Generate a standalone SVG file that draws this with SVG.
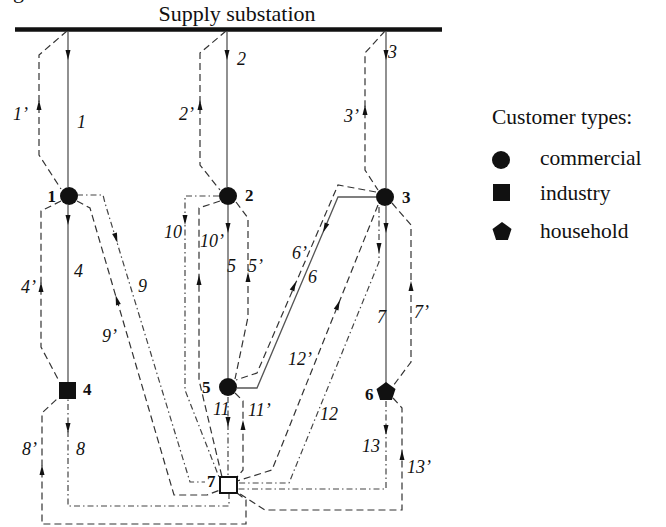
<svg xmlns="http://www.w3.org/2000/svg" xmlns:xlink="http://www.w3.org/1999/xlink" width="666" height="527" viewBox="0 0 666 527">
<style>
text{font-family:"Liberation Serif","Times New Roman",serif;fill:#111}
.t{font-size:22px}
.lg{font-size:21.5px}
.nl{font-size:17px;font-weight:bold}
.el{font-size:18px;font-style:italic}
.s{stroke:#555;stroke-width:1.3;fill:none}
.d{stroke:#333;stroke-width:1.2;fill:none;stroke-dasharray:7 4}
.dd{stroke:#444;stroke-width:1.2;fill:none;stroke-dasharray:6 3 1.5 3}
.n{fill:#111;stroke:none}
</style>
<defs>
<path id="ad" d="M-2.5,-5 L2.5,-5 L0,5 Z" fill="#111"/>
<path id="au" d="M-2.5,5 L2.5,5 L0,-5 Z" fill="#111"/>
</defs>
<text class="t" x="13" y="-2">g</text>
<text class="t" x="237" y="21" text-anchor="middle">Supply substation</text>
<line x1="15" y1="29.5" x2="442" y2="29.5" stroke="#111" stroke-width="4.5"/>

<g id="connectors">
<!-- feeders from substation -->
<path class="s" d="M68,31 V187"/>
<path class="d" d="M67,31 L39,55 V155 L61,189"/>
<path class="s" d="M227,31 V187"/>
<path class="d" d="M226,31 L200,53 V165 L220,190"/>
<path class="s" d="M386,31 V188"/>
<path class="d" d="M385,31 L365,53 V170 L378,190"/>
<!-- 1 -> 4 -->
<path class="s" d="M68,205 V382"/>
<path class="d" d="M61,201 L41,211 V347 L59,381"/>
<!-- 2 -> 5 -->
<path class="s" d="M228,205 V378"/>
<path class="d" d="M236,202 L248,218 V317 L235,379"/>
<!-- 3 -> 6 -->
<path class="s" d="M386,206 V383"/>
<path class="d" d="M392,203 L411,225 V362 L393,386"/>
<!-- 3 -> 5 -->
<path class="s" d="M376,197 H338 L257,388 H237"/>
<path class="d" d="M376,192 L338,185 L257,373 L236,380"/>
<!-- 1 -> 7 -->
<path class="dd" d="M77,195 H103 L105,203 L190,482 H205"/>
<path class="d" d="M77,201 L90,208 L174,495 H207 L220,490"/>
<!-- 2 -> 7 -->
<path class="dd" d="M219,196 H185 V390 L219,477"/>
<path class="d" d="M220,201 L199,208 V380 L222,477"/>
<!-- 5 -> 7 -->
<path class="dd" d="M228,397 V477"/>
<path class="d" d="M235,393 L243,401 V470 L237,477"/>
<!-- 3 -> 7 -->
<path class="dd" d="M379,207 V262 L289,483 H237"/>
<path class="d" d="M378,205 L272,470 L237,481"/>
<!-- 6 -> 7 -->
<path class="dd" d="M386,401 V489 H237"/>
<path class="d" d="M393,398 L402,408 V510 H265 L237,492"/>
<!-- 4 -> 7 -->
<path class="dd" d="M229,493 V506 H68 V399"/>
<path class="d" d="M237,493 L246,500 V524 H42 V413 L57,399"/>

<!-- arrowheads -->
<use xlink:href="#ad" x="68" y="55"/>
<use xlink:href="#ad" x="227" y="55"/>
<use xlink:href="#ad" x="386" y="55"/>
<use xlink:href="#au" x="39" y="105"/>
<use xlink:href="#au" x="200" y="105"/>
<use xlink:href="#au" x="365" y="110"/>
<use xlink:href="#ad" x="68" y="220"/>
<use xlink:href="#au" x="41" y="287"/>
<use xlink:href="#ad" x="228" y="228"/>
<use xlink:href="#au" x="248" y="277"/>
<use xlink:href="#ad" x="386" y="228"/>
<use xlink:href="#au" x="411" y="286"/>
<use xlink:href="#ad" x="185" y="220"/>
<use xlink:href="#au" x="199" y="280"/>
<use xlink:href="#ad" x="379" y="248"/>
<use xlink:href="#ad" x="228" y="422"/>
<use xlink:href="#au" x="243" y="425"/>
<use xlink:href="#ad" x="68" y="428"/>
<use xlink:href="#au" x="42" y="470"/>
<use xlink:href="#ad" x="386" y="430"/>
<use xlink:href="#au" x="402" y="455"/>
<use xlink:href="#ad" transform="translate(116,238) rotate(-16.9)"/>
<use xlink:href="#ad" transform="translate(117,300) rotate(163.9)"/>
<use xlink:href="#ad" transform="translate(325,228) rotate(23)"/>
<use xlink:href="#ad" transform="translate(294,286) rotate(-156.7)"/>
<use xlink:href="#ad" transform="translate(338,305) rotate(-158.2)"/>

<!-- edge labels -->
<text class="el" x="77" y="128">1</text>
<text class="el" x="13" y="120">1’</text>
<text class="el" x="237" y="65">2</text>
<text class="el" x="179" y="120">2’</text>
<text class="el" x="388" y="58">3</text>
<text class="el" x="344" y="122">3’</text>
<text class="el" x="74" y="277">4</text>
<text class="el" x="21" y="293">4’</text>
<text class="el" x="227" y="272">5</text>
<text class="el" x="248" y="272">5’</text>
<text class="el" x="308" y="283">6</text>
<text class="el" x="292" y="259">6’</text>
<text class="el" x="377" y="323">7</text>
<text class="el" x="414" y="318">7’</text>
<text class="el" x="76" y="455">8</text>
<text class="el" x="22" y="455">8’</text>
<text class="el" x="138" y="292">9</text>
<text class="el" x="102" y="342">9’</text>
<text class="el" x="164" y="238">10</text>
<text class="el" x="200" y="247">10’</text>
<text class="el" x="213" y="415">11</text>
<text class="el" x="248" y="416">11’</text>
<text class="el" x="320" y="420">12</text>
<text class="el" x="288" y="365">12’</text>
<text class="el" x="362" y="452">13</text>
<text class="el" x="407" y="473">13’</text>
</g>

<g id="node1"><circle class="n" cx="69" cy="196" r="9"/><text class="nl" x="56" y="202" text-anchor="end">1</text></g>
<g id="node2"><circle class="n" cx="228" cy="196" r="9"/><text class="nl" x="245" y="201">2</text></g>
<g id="node3"><circle class="n" cx="385" cy="197" r="9"/><text class="nl" x="402" y="203">3</text></g>
<g id="node4"><rect class="n" x="59" y="382" width="17" height="17"/><text class="nl" x="83" y="395">4</text></g>
<g id="node5"><circle class="n" cx="228" cy="387" r="9"/><text class="nl" x="202" y="393">5</text></g>
<g id="node6"><polygon class="n" points="386,382 395.5,388.9 391.9,400.1 380.1,400.1 376.5,388.9"/><text class="nl" x="365" y="400">6</text></g>
<g id="node7"><rect x="220" y="477" width="17" height="16" fill="#fff" stroke="#111" stroke-width="2"/><text class="nl" x="207" y="487">7</text></g>

<g id="legend">
<text class="lg" x="492" y="124">Customer types:</text>
<circle class="n" cx="501" cy="160" r="9"/>
<text class="lg" x="540" y="165">commercial</text>
<rect class="n" x="493" y="184" width="17" height="17"/>
<text class="lg" x="540" y="200">industry</text>
<polygon class="n" points="502,222 511.5,228.9 507.9,240.1 496.1,240.1 492.5,228.9"/>
<text class="lg" x="540" y="238">household</text>
</g>
</svg>
